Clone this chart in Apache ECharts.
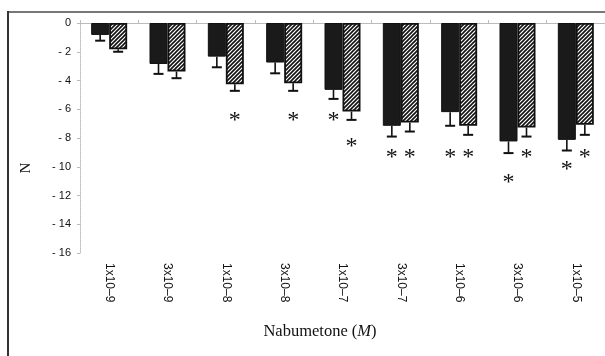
<!DOCTYPE html>
<html>
<head>
<meta charset="utf-8">
<script src="https://cdn.jsdelivr.net/npm/echarts@6/dist/echarts.min.js"></script>
<style>
html,body{margin:0;padding:0;background:#fff;}
#chart{width:605px;height:356px;}
</style>
</head>
<body>
<div id="chart"></div>
<script>
// ---- data ----
var categories = ['1x10–9','3x10–9','1x10–8','3x10–8','1x10–7','3x10–7','1x10–6','3x10–6','1x10–5'];
var yTicks = [0,-2,-4,-6,-8,-10,-12,-14,-16];
var solidMean = [-0.83,-2.85,-2.34,-2.75,-4.65,-7.15,-6.2,-8.24,-8.13];
var solidSem  = [0.40,0.69,0.74,0.75,0.63,0.75,0.95,0.81,0.74];
var hatchMean = [-1.83,-3.38,-4.26,-4.19,-6.16,-6.92,-7.15,-7.27,-7.08];
var hatchSem  = [0.17,0.46,0.46,0.53,0.58,0.63,0.63,0.63,0.70];
// asterisk (significance mark) levels, null = none
var solidStar = [null,null,null,null,-6.54,-9.11,-9.11,-10.8,-9.93];
var hatchStar = [null,null,-6.54,-6.54,-8.3,-9.11,-9.11,-9.11,-9.11];

// ---- hatch pattern ----
var pc = document.createElement('canvas');
pc.width = 4; pc.height = 4;
var g = pc.getContext('2d');
g.fillStyle = '#fff'; g.fillRect(0,0,4,4);
g.strokeStyle = '#111'; g.lineWidth = 1.6;
g.beginPath();
g.moveTo(-1,5); g.lineTo(5,-1);
g.moveTo(-1,1); g.lineTo(1,-1);
g.moveTo(3,5); g.lineTo(5,3);
g.stroke();

var BW = 18;
function errSeries(mean, sem, off){
  return {
    type:'custom', xAxisIndex:0, z:5,
    data: mean.map(function(m,i){return [i, m, m - sem[i]];}),
    renderItem: function(params, api){
      var p0 = api.coord([api.value(0), api.value(1)]);
      var p1 = api.coord([api.value(0), api.value(2)]);
      var x = p0[0] + off;
      return {type:'group', children:[
        {type:'line', shape:{x1:x,y1:p0[1],x2:x,y2:p1[1]}, style:{stroke:'#111',lineWidth:1.6}},
        {type:'line', shape:{x1:x-5,y1:p1[1],x2:x+5,y2:p1[1]}, style:{stroke:'#111',lineWidth:2}}
      ]};
    }
  };
}
function starSeries(stars, off){
  var d = [];
  stars.forEach(function(v,i){ if(v!==null) d.push([i,v]); });
  return {
    type:'custom', xAxisIndex:0, z:6,
    data: d,
    renderItem: function(params, api){
      var p = api.coord([api.value(0), api.value(1)]);
      return {type:'text', x:p[0]+off, y:p[1]+4,
        style:{text:'*', fill:'#111', font:'24px "Liberation Serif"', align:'center', verticalAlign:'middle'}};
    }
  };
}

var chart = echarts.init(document.getElementById('chart'), null, {renderer:'canvas'});
chart.setOption({
  animation:false,
  grid:{left:80, top:23, width:526.5, height:230},
  xAxis:[{
    type:'category', data:categories, position:'top',
    axisLine:{show:true, lineStyle:{color:'#bbb', width:1}},
    axisTick:{show:true, length:3, lineStyle:{color:'#bbb'}},
    axisLabel:{show:false}
  },{
    type:'category', data:categories, position:'bottom',
    axisLine:{show:false}, axisTick:{show:false},
    axisLabel:{rotate:-90, margin:10, color:'#111', fontSize:12, fontFamily:'Liberation Sans'}
  }],
  yAxis:{
    type:'value', min:-16, max:0, interval:2,
    splitLine:{show:false},
    axisLine:{show:true, lineStyle:{color:'#bbb', type:'dotted'}},
    axisTick:{show:true, length:3, lineStyle:{color:'#bbb'}},
    axisLabel:{margin:9, color:'#111', fontSize:11, fontFamily:'Liberation Sans',
      formatter:function(v){ return v===0 ? '0' : '- ' + Math.abs(v); }}
  },
  series:[
    {type:'bar', xAxisIndex:0, data:solidMean, barWidth:BW, barGap:'0%',
      itemStyle:{color:'#1a1a1a', borderColor:'#111', borderWidth:1}},
    {type:'bar', xAxisIndex:0, data:hatchMean, barWidth:BW, barGap:'0%',
      itemStyle:{color:{image:pc, repeat:'repeat'}, borderColor:'#111', borderWidth:1.8}},
    errSeries(solidMean, solidSem, -BW/2),
    errSeries(hatchMean, hatchSem, BW/2),
    starSeries(solidStar, -BW/2),
    starSeries(hatchStar, BW/2)
  ],
  graphic:[
    {type:'line', shape:{x1:8,y1:12,x2:605,y2:12}, style:{stroke:'#777', lineWidth:2}},
    {type:'line', shape:{x1:8,y1:11,x2:8,y2:356}, style:{stroke:'#333', lineWidth:2}},
    {type:'text', x:320, y:332, style:{text:'Nabumetone ({i|M})', fill:'#111',
      font:'16.5px "Liberation Serif"', align:'center', verticalAlign:'middle',
      rich:{i:{fontStyle:'italic', fontFamily:'Liberation Serif', fontSize:16.5, fill:'#111'}}}},
    {type:'text', x:26, y:168, rotation:Math.PI/2, style:{text:'N', fill:'#111',
      font:'15px "Liberation Serif"', align:'center', verticalAlign:'middle'}}
  ]
});
</script>
</body>
</html>
